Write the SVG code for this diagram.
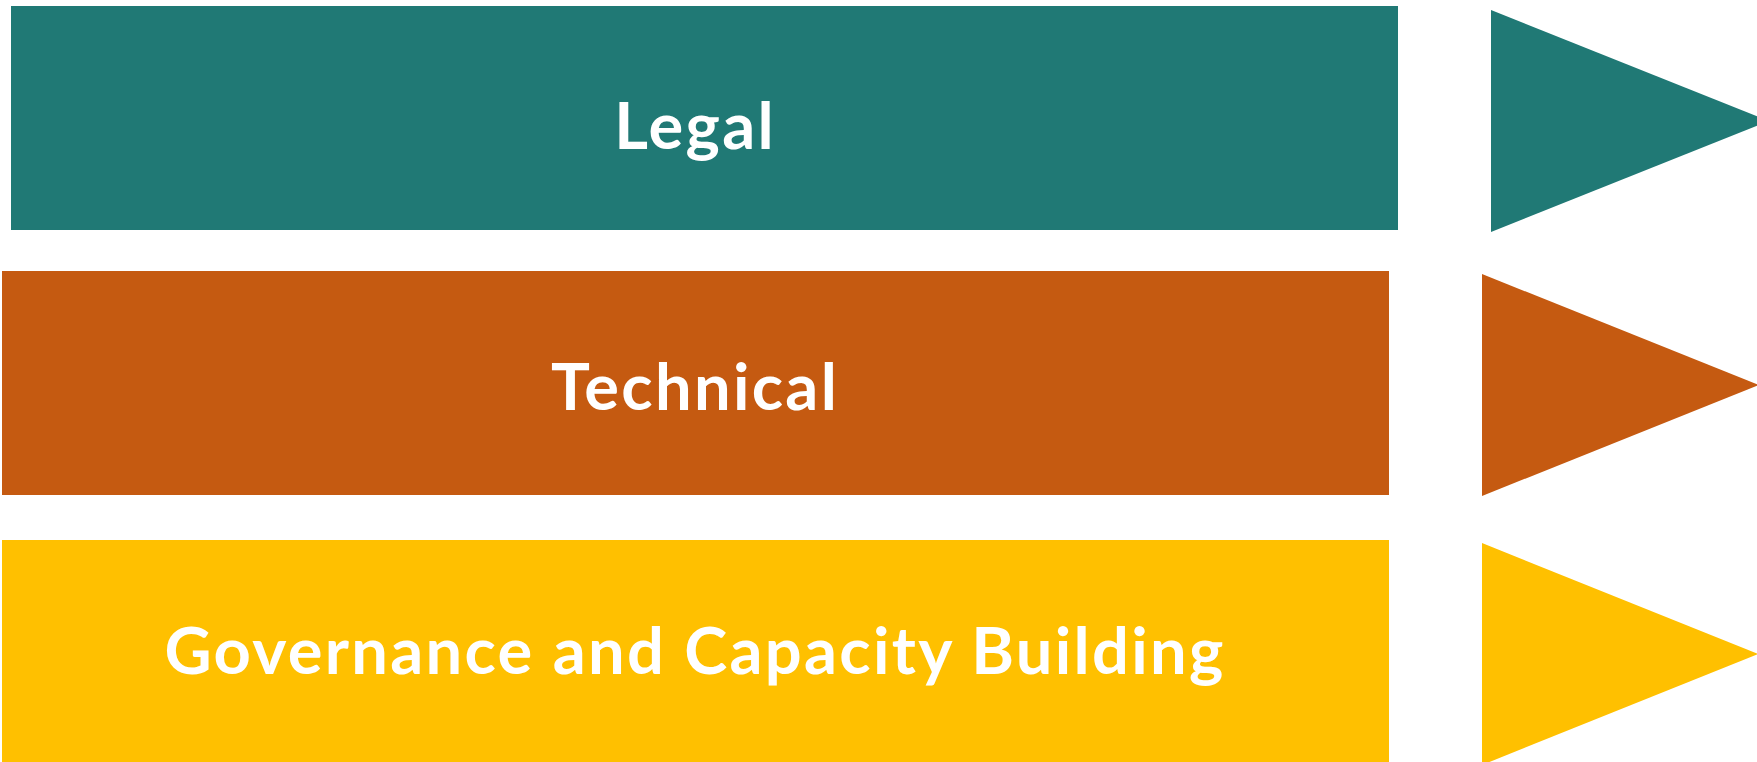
<svg xmlns="http://www.w3.org/2000/svg" width="1757" height="762" viewBox="0 0 1757 762">
<style>
.lbl{font-family:Lato,"Open Sans","Liberation Sans",sans-serif;font-weight:bold;font-size:65px;letter-spacing:2.3px;fill:#ffffff;text-anchor:middle}
.teal{fill:#207975}
.orange{fill:#C55A11}
.gold{fill:#FFC000}
</style>
<rect width="1757" height="762" fill="#ffffff"/>
<g id="legal">
<rect class="teal" x="11" y="6" width="1387" height="224"/>
<text class="lbl" x="695" y="149">Legal</text>
</g>
<g id="legal-arrow"><polygon class="teal" points="1491,10 1769,121 1491,232"/></g>
<g id="technical">
<rect class="orange" x="2" y="271" width="1387" height="224"/>
<text class="lbl" x="695" y="410">Technical</text>
</g>
<g id="technical-arrow"><polygon class="orange" points="1482,274 1759,385 1482,496"/></g>
<g id="governance">
<rect class="gold" x="2" y="540" width="1387" height="224"/>
<text class="lbl" x="695" y="674">Governance and Capacity Building</text>
</g>
<g id="governance-arrow"><polygon class="gold" points="1482,543 1758,654 1482,765"/></g>
<g id="connectors"></g>
</svg>
